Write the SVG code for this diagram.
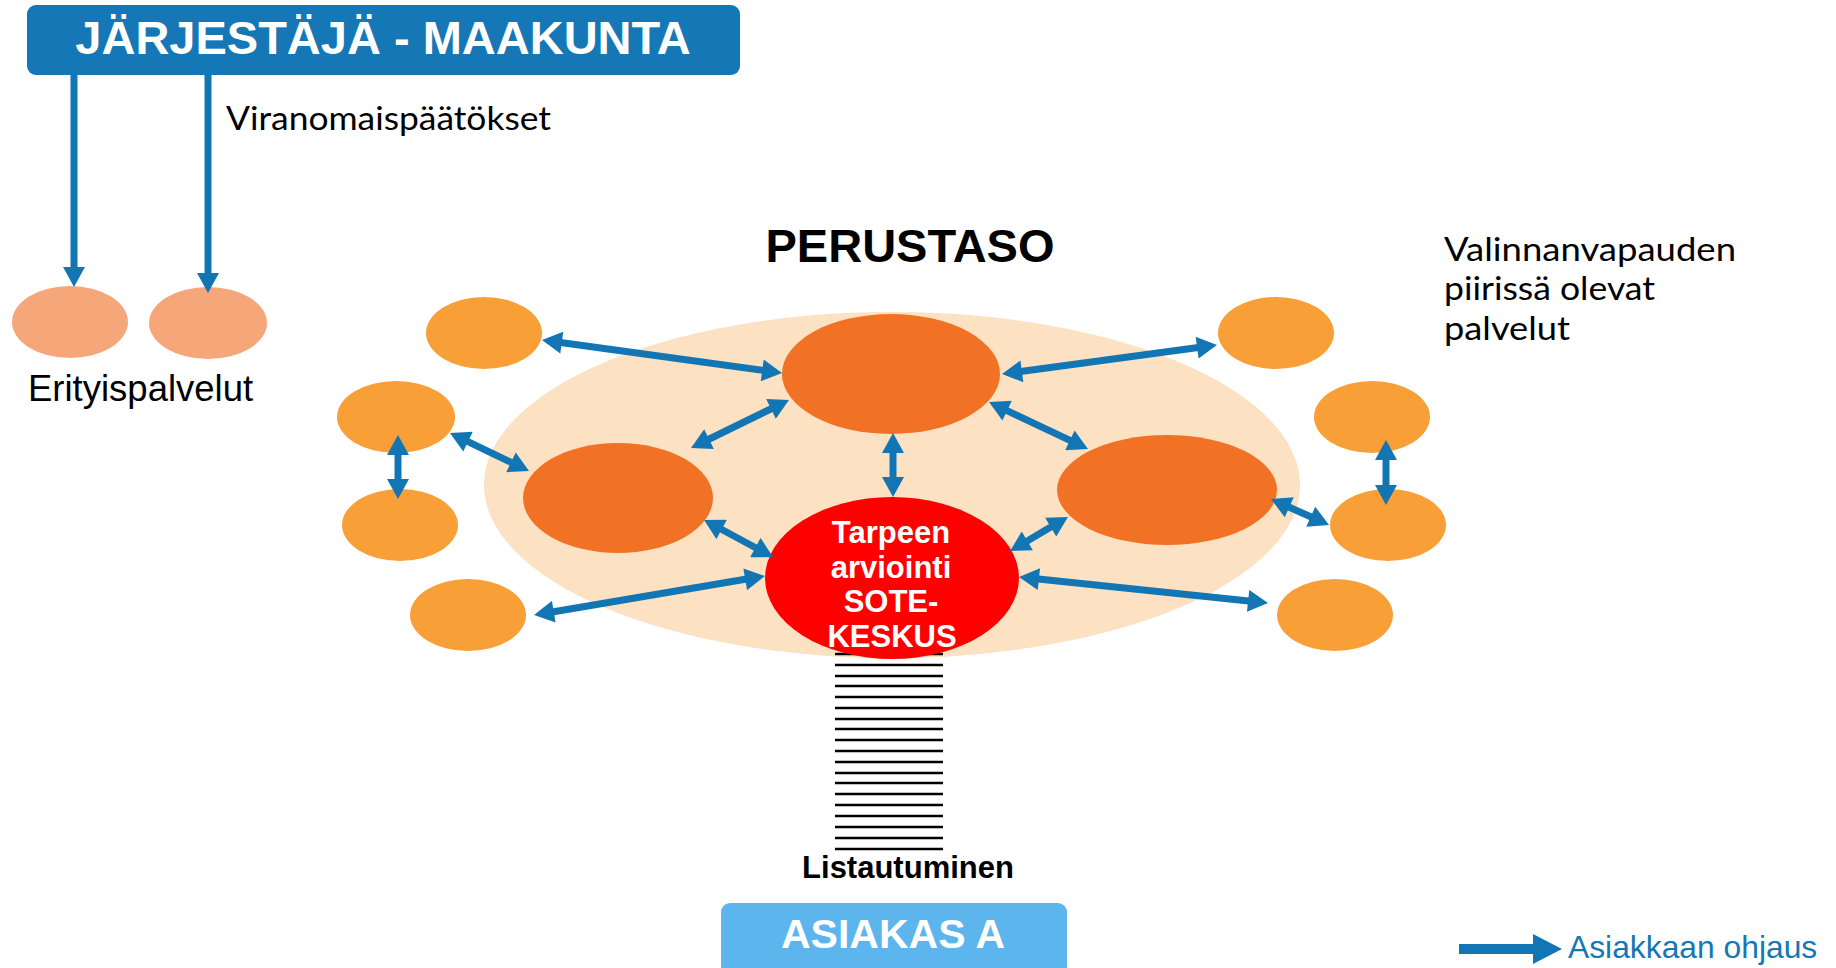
<svg xmlns="http://www.w3.org/2000/svg" width="1836" height="968" viewBox="0 0 1836 968">
<defs>
<style>
.b{font-family:"Liberation Sans",Arial,sans-serif;font-weight:bold}
.r{font-family:"Liberation Sans",Arial,sans-serif}
.h{font-family:Lato,"Noto Sans",sans-serif}
.sm{fill:#F99F38}
.bg{fill:#F17225}
.sal{fill:#F6A77A}
.c{stroke:#1376B4;stroke-width:7;fill:none;marker-end:url(#ah);marker-start:url(#ah)}
.c1{stroke:#1376B4;stroke-width:7;fill:none;marker-end:url(#ah)}
.st{stroke:#000;stroke-width:2.6}
</style>
<marker id="ah" markerUnits="userSpaceOnUse" markerWidth="22" markerHeight="22" viewBox="0 0 20 22" refX="3" refY="11" orient="auto-start-reverse">
<path d="M0,0 L20,11 L0,22 z" fill="#1376B4"/>
</marker>
</defs>
<rect width="1836" height="968" fill="#fff"/>

<g id="banner">
<rect x="27" y="5" width="713" height="70" rx="9" fill="#1577B5"/>
<text x="383" y="54" class="b" font-size="47" fill="#fff" text-anchor="middle">JÄRJESTÄJÄ - MAAKUNTA</text>
</g>

<g id="label-viranomais"><text x="226" y="130" class="h" font-size="32" fill="#000" textLength="325" lengthAdjust="spacingAndGlyphs">Viranomaispäätökset</text></g>

<g id="erityis1"><ellipse cx="70" cy="322" rx="58" ry="36" class="sal"/></g>
<g id="erityis2"><ellipse cx="208" cy="323" rx="59" ry="36" class="sal"/></g>
<g id="label-erityis"><text x="28" y="401" class="r" font-size="36.5" fill="#000">Erityispalvelut</text></g>

<g id="label-perustaso"><text x="910" y="262" class="b" font-size="47" fill="#000" text-anchor="middle">PERUSTASO</text></g>

<g id="label-valinnan">
<text x="1444" y="261" class="h" font-size="32.5" fill="#000" textLength="292" lengthAdjust="spacingAndGlyphs">Valinnanvapauden</text>
<text x="1444" y="300" class="h" font-size="32.5" fill="#000" textLength="211" lengthAdjust="spacingAndGlyphs">piirissä olevat</text>
<text x="1444" y="340" class="h" font-size="32.5" fill="#000" textLength="126" lengthAdjust="spacingAndGlyphs">palvelut</text>
</g>

<g id="perustaso-area"><ellipse cx="892" cy="485" rx="408" ry="173" fill="#FCE1C3"/></g>

<g id="listautuminen">
<path class="st" d="M835,654H943M835,665H943M835,676H943M835,686H943M835,697H943M835,708H943M835,719H943M835,729H943M835,740H943M835,751H943M835,762H943M835,773H943M835,783H943M835,794H943M835,805H943M835,816H943M835,827H943M835,838H943M835,849H943"/>
<text x="908" y="878" class="b" font-size="31" fill="#000" text-anchor="middle">Listautuminen</text>
</g>

<g id="small-tl"><ellipse cx="484" cy="333" rx="58" ry="36" class="sm"/></g>
<g id="small-lm"><ellipse cx="396" cy="417" rx="59" ry="36" class="sm"/></g>
<g id="small-ll"><ellipse cx="400" cy="525" rx="58" ry="36" class="sm"/></g>
<g id="small-bl"><ellipse cx="468" cy="615" rx="58" ry="36" class="sm"/></g>
<g id="small-tr"><ellipse cx="1276" cy="333" rx="58" ry="36" class="sm"/></g>
<g id="small-rm"><ellipse cx="1372" cy="417" rx="58" ry="36" class="sm"/></g>
<g id="small-rl"><ellipse cx="1388" cy="525" rx="58" ry="36" class="sm"/></g>
<g id="small-br"><ellipse cx="1335" cy="615" rx="58" ry="36" class="sm"/></g>

<g id="big-top"><ellipse cx="891" cy="374" rx="109" ry="60" class="bg"/></g>
<g id="big-left"><ellipse cx="618" cy="498" rx="95" ry="55" class="bg"/></g>
<g id="big-right"><ellipse cx="1167" cy="490" rx="110" ry="55" class="bg"/></g>

<g id="sote">
<ellipse cx="892" cy="578" rx="127" ry="81" fill="#FF0000"/>
<text class="b" font-size="31" fill="#fff" text-anchor="middle"><tspan x="891" y="543">Tarpeen</tspan><tspan x="891" y="578">arviointi</tspan><tspan x="891" y="612">SOTE-</tspan><tspan x="892" y="647">KESKUS</tspan></text>
</g>

<g id="asiakas">
<rect x="721" y="903" width="346" height="80" rx="9" fill="#5CB5EC"/>
<text x="893" y="948" class="b" font-size="41" fill="#fff" text-anchor="middle">ASIAKAS A</text>
</g>

<g id="connectors">
<path class="c1" d="M74,75V270"/>
<path class="c1" d="M208,75V276"/>
<path class="c" d="M558.8,342.3L765.2,370.7"/>
<path class="c" d="M465.3,440.4L513.7,463.6"/>
<path class="c" d="M398,452V482"/>
<path class="c" d="M706.3,440.5L773.7,407.5"/>
<path class="c" d="M893,450V480"/>
<path class="c" d="M1004.4,409.3L1072.6,441.7"/>
<path class="c" d="M719,528L758,549"/>
<path class="c" d="M748.2,578.8L550.8,612.2"/>
<path class="c" d="M1024.7,542.4L1053.3,525.6"/>
<path class="c" d="M1035.9,578.8L1251.1,601.2"/>
<path class="c" d="M1018.9,371.7L1200.1,347.3"/>
<path class="c" d="M1286.5,506L1313.5,518"/>
<path class="c" d="M1386,457V488"/>
</g>

<g id="legend">
<path d="M1459,944H1533V934L1562,949L1533,964V954H1459z" fill="#1376B4"/>
<text x="1568" y="958" class="r" font-size="31.8" fill="#1577B4">Asiakkaan ohjaus</text>
</g>
</svg>
